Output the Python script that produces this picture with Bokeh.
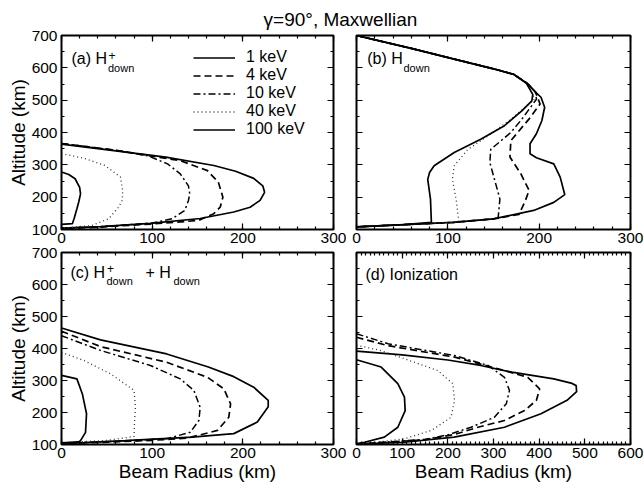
from bokeh.plotting import figure
from bokeh.layouts import column, row
from bokeh.models import (Range1d, LinearAxis, Legend, LegendItem,
                          SingleIntervalTicker, CustomJSTickFormatter)
from bokeh.core.properties import value
from bokeh.embed import file_html
from bokeh.resources import INLINE

FONT = "Liberation Sans"

TITLE = "γ=90°, Maxwellian"
ENERGIES = ["1 keV", "4 keV", "10 keV", "40 keV", "100 keV"]

# ---------------- panel (a): H+ down ----------------
a_1keV_r = [0, 40, 115, 168, 192, 212, 222, 224, 219, 208, 190, 153, 98, 43, 0]
a_1keV_alt = [364, 350, 324, 298, 280, 258, 235, 215, 190, 169, 154, 134, 119, 109, 104]
a_4keV_r = [0, 60, 131, 161, 173, 178, 175, 168, 151, 100, 40, 0]
a_4keV_alt = [366, 345, 313, 282, 246, 200, 169, 149, 128, 117, 107, 103]
a_10keV_r = [0, 60, 95, 117, 131, 140, 141.5, 140, 136, 122, 100, 40, 0]
a_10keV_alt = [366, 345, 328, 303, 272, 235, 210, 190, 159, 133, 120, 108, 104]
a_40keV_r = [0, 25, 48, 65, 67.5, 67, 63, 52, 33, 0]
a_40keV_alt = [335, 320, 298, 262, 221, 190, 169, 133, 112, 104]
a_100keV_r = [0, 8, 15, 20, 21, 19, 17, 14, 12, 0]
a_100keV_alt = [278, 270, 257, 230, 210, 185, 164, 135, 118, 116]

# ---------------- panel (b): H down ----------------
b_1keV_r = [0, 60, 107, 150, 172, 187, 196, 202, 206, 203, 197, 190, 190, 197, 216, 223, 228, 216, 194, 150, 106, 52, 0]
b_1keV_alt = [700, 660, 627, 597, 580, 552, 525, 509, 478, 437, 396, 365, 334, 322, 303, 262, 208, 184, 159, 133, 122, 115, 108]
b_4keV_r = [0, 60, 107, 150, 172, 187, 196, 201, 189, 169, 168, 180, 189, 185, 178, 150, 106, 52, 0]
b_4keV_alt = [700, 660, 627, 597, 580, 552, 525, 488, 442, 375, 324, 272, 221, 190, 147, 133, 122, 115, 108]
b_10keV_r = [0, 60, 107, 150, 172, 187, 196, 197, 181, 169, 147, 146, 151, 157, 155, 106, 52, 0]
b_10keV_alt = [700, 660, 627, 597, 580, 552, 525, 503, 441, 400, 348, 307, 256, 194, 134, 122, 115, 108]
b_40keV_r = [0, 60, 107, 150, 172, 187, 195, 169, 147, 122, 107, 105, 109, 112, 106, 52, 0]
b_40keV_alt = [700, 660, 627, 597, 580, 552, 503, 441, 395, 348, 297, 256, 194, 126, 122, 115, 108]
b_100keV_r = [0, 60, 107, 150, 172, 186, 193, 192, 181, 162, 136, 107, 85, 80, 78, 81, 82, 52, 0]
b_100keV_alt = [700, 660, 627, 597, 580, 552, 518, 498, 467, 421, 379, 338, 297, 276, 255, 194, 122, 115, 108]

# ---------------- panel (c): H+ down + H down ----------------
c_1keV_r = [0, 43, 116, 162, 190, 212, 228, 228, 216, 190, 144, 70, 25, 0]
c_1keV_alt = [464, 427, 383, 342, 312, 279, 238, 218, 170, 134, 123, 112, 106, 104]
c_4keV_r = [0, 43, 116, 161, 179, 186.5, 184.5, 172, 139, 100, 50, 0]
c_4keV_alt = [454, 406, 357, 310, 274, 227, 185, 144, 120, 113, 107, 104]
c_10keV_r = [0, 43, 98, 131, 146, 153, 151.5, 142, 116, 60, 0]
c_10keV_alt = [440, 394, 347, 305, 269, 216, 175, 138, 118, 110, 104]
c_40keV_r = [0, 25, 54, 80, 81.6, 80.5, 80, 50, 0]
c_40keV_alt = [388, 362, 321, 269, 216, 170, 125, 113, 105]
c_100keV_r = [0, 17, 23, 27.6, 26.5, 21, 18.6, 0]
c_100keV_alt = [316, 305, 258, 196, 138, 112, 108, 105]

# ---------------- panel (d): ionization ----------------
d_1keV_r = [0, 100, 200, 272, 340, 432, 470, 481, 482, 461, 404, 324, 214, 105, 0]
d_1keV_alt = [392, 380, 364, 347, 326, 305, 292, 284, 265, 238, 196, 154, 123, 107, 101]
d_4keV_r = [0, 69, 215, 324, 375, 401, 394, 368, 324, 266, 214, 150, 0]
d_4keV_alt = [435, 409, 373, 331, 310, 274, 238, 206, 175, 154, 131, 115, 101]
d_10keV_r = [0, 69, 215, 288, 324, 335, 328, 302, 251, 200, 150, 0]
d_10keV_alt = [446, 415, 378, 347, 310, 269, 227, 185, 154, 130, 116, 101]
d_40keV_r = [0, 50, 105, 178, 211, 214.6, 207, 164, 105, 50, 0]
d_40keV_alt = [410, 395, 368, 331, 290, 238, 185, 144, 118, 108, 101]
d_100keV_r = [0, 54, 90.5, 105, 106.6, 90.5, 61, 17.5, 0]
d_100keV_alt = [365, 342, 290, 248, 206, 154, 123, 107, 103]

ALT_RANGE = (100, 700)
X_MAX_ABC = 300
X_MAX_D = 600

STYLES = [
    dict(line_dash="solid", line_width=1.7, line_color="black"),
    dict(line_dash="7 4", line_width=1.7, line_color="black"),
    dict(line_dash="7 3 2 3", line_width=1.5, line_color="black"),
    dict(line_dash="1 3", line_width=1.3, line_color="#333333"),
    dict(line_dash="solid", line_width=1.7, line_color="black"),
]

blank = CustomJSTickFormatter(code="return ''")
MID = 0.35  # offset of the text middle above its baseline, in em


def make_panel(xmax, x_minor, fw, fh, bl, br, bt, bb, ylabels, xtitle, ytitle):
    p = figure(frame_width=fw, frame_height=fh, title=None,
               min_border_left=bl, min_border_right=br,
               min_border_top=bt, min_border_bottom=bb,
               x_range=Range1d(0, xmax), y_range=Range1d(*ALT_RANGE),
               output_backend="svg", toolbar_location=None)
    p.grid.visible = False
    p.outline_line_color = "black"
    p.outline_line_width = 2
    p.background_fill_color = "white"
    p.border_fill_color = None

    def style_axis(ax, interval, nminor, labels):
        ax.ticker = SingleIntervalTicker(interval=interval, num_minor_ticks=nminor)
        ax.axis_line_color = None
        ax.major_tick_in = 6
        ax.major_tick_out = 0
        ax.minor_tick_in = 3
        ax.minor_tick_out = 0
        ax.major_tick_line_width = 1.2
        ax.minor_tick_line_width = 1.2
        ax.major_tick_line_color = "black"
        ax.minor_tick_line_color = "black"
        ax.major_label_text_font = FONT
        ax.major_label_text_color = "black"
        if labels:
            ax.major_label_text_font_size = "15.5px"
            ax.major_label_standoff = 3
        else:
            ax.formatter = blank
            ax.major_label_text_font_size = "0px"
            ax.major_label_standoff = 0
        ax.axis_label_text_font = FONT
        ax.axis_label_text_font_size = "19px"
        ax.axis_label_text_font_style = "normal"
        ax.axis_label_text_color = "black"
        ax.axis_label_standoff = 0

    style_axis(p.xaxis[0], 100, x_minor, True)
    style_axis(p.yaxis[0], 100, 2, ylabels)
    if ylabels:
        p.yaxis[0].major_label_standoff = 4
    if xtitle:
        p.xaxis[0].axis_label = "Beam Radius (km)"
    if ytitle:
        p.yaxis[0].axis_label = "Altitude (km)"
    top = LinearAxis()
    right = LinearAxis()
    style_axis(top, 100, x_minor, False)
    style_axis(right, 100, 2, False)
    p.add_layout(top, "above")
    p.add_layout(right, "right")
    return p


def draw_curves(p, rs, alts):
    rends = []
    for r, a, st in zip(rs, alts, STYLES):
        rends.append(p.line(r, a, **st))
    return rends


def add_text(p, xmax, fw, fh, pieces):
    # pieces: (text, px from frame left, baseline px from frame top, font px)
    for txt, dx, dy, size in pieces:
        x = dx * xmax / fw
        yc = dy - MID * size
        y = ALT_RANGE[1] - yc * (ALT_RANGE[1] - ALT_RANGE[0]) / fh
        p.text(x=[x], y=[y], text=[txt], text_font=value(FONT),
               text_font_size=f"{size}px", text_color="black",
               text_align="left", text_baseline="middle")


FW_L, FW_R = 272, 274
FH_T, FH_B = 194, 192

pa = make_panel(X_MAX_ABC, 5, FW_L, FH_T, 61, 13, 9, 21, True, False, True)
pb = make_panel(X_MAX_ABC, 5, FW_R, FH_T, 10, 13, 9, 21, False, False, False)
pc = make_panel(X_MAX_ABC, 5, FW_L, FH_B, 61, 13, 9, 42, True, True, True)
pd = make_panel(X_MAX_D, 10, FW_R, FH_B, 10, 13, 9, 42, False, True, False)

ra = draw_curves(pa, [a_1keV_r, a_4keV_r, a_10keV_r, a_40keV_r, a_100keV_r],
                 [a_1keV_alt, a_4keV_alt, a_10keV_alt, a_40keV_alt, a_100keV_alt])
draw_curves(pb, [b_1keV_r, b_4keV_r, b_10keV_r, b_40keV_r, b_100keV_r],
            [b_1keV_alt, b_4keV_alt, b_10keV_alt, b_40keV_alt, b_100keV_alt])
draw_curves(pc, [c_1keV_r, c_4keV_r, c_10keV_r, c_40keV_r, c_100keV_r],
            [c_1keV_alt, c_4keV_alt, c_10keV_alt, c_40keV_alt, c_100keV_alt])
draw_curves(pd, [d_1keV_r, d_4keV_r, d_10keV_r, d_40keV_r, d_100keV_r],
            [d_1keV_alt, d_4keV_alt, d_10keV_alt, d_40keV_alt, d_100keV_alt])

legend = Legend(items=[LegendItem(label=lab, renderers=[r]) for lab, r in zip(ENERGIES, ra)],
                location=(132, 91), padding=0, margin=0, spacing=0,
                label_height=17, glyph_height=17, glyph_width=42, label_standoff=11,
                border_line_color=None, background_fill_alpha=0,
                label_text_font=FONT, label_text_font_size="16px", label_text_color="black")
pa.add_layout(legend)

add_text(pa, X_MAX_ABC, FW_L, FH_T, [("(a) H", 10, 29, 16), ("+", 47, 24, 12), ("down", 46.5, 36, 11)])
add_text(pb, X_MAX_ABC, FW_R, FH_T, [("(b) H", 10.7, 28.7, 16), ("down", 47, 36.3, 11)])
add_text(pc, X_MAX_ABC, FW_L, FH_B, [("(c) H", 9, 25.6, 16), ("+", 45.5, 20.6, 12), ("down", 45, 32.6, 11),
                                     ("+ H", 84, 25.6, 16), ("down", 112, 32.6, 11)])
add_text(pd, X_MAX_D, FW_R, FH_B, [("(d) Ionization", 9, 28, 16)])

# title strip
TH = 30
TITLE_SIZE = 19
pt = figure(width=640, height=TH, x_range=Range1d(0, 640), y_range=Range1d(0, TH),
            title=None, output_backend="svg", toolbar_location=None,
            min_border_left=0, min_border_right=0, min_border_top=0, min_border_bottom=0)
pt.axis.visible = False
pt.grid.visible = False
pt.outline_line_color = None
pt.border_fill_color = None
pt.background_fill_color = None
pt.text(x=[340], y=[TH - (25.5 - MID * TITLE_SIZE)], text=[TITLE], text_font=value(FONT),
        text_font_size=f"{TITLE_SIZE}px", text_color="black",
        text_align="center", text_baseline="middle")

layout = column(pt,
                row(pa, pb, margin=(-4, 0, 0, 0)),
                row(pc, pd, margin=(-7, 0, 0, 0)))
open("out.html", "w").write(file_html(layout, INLINE))
